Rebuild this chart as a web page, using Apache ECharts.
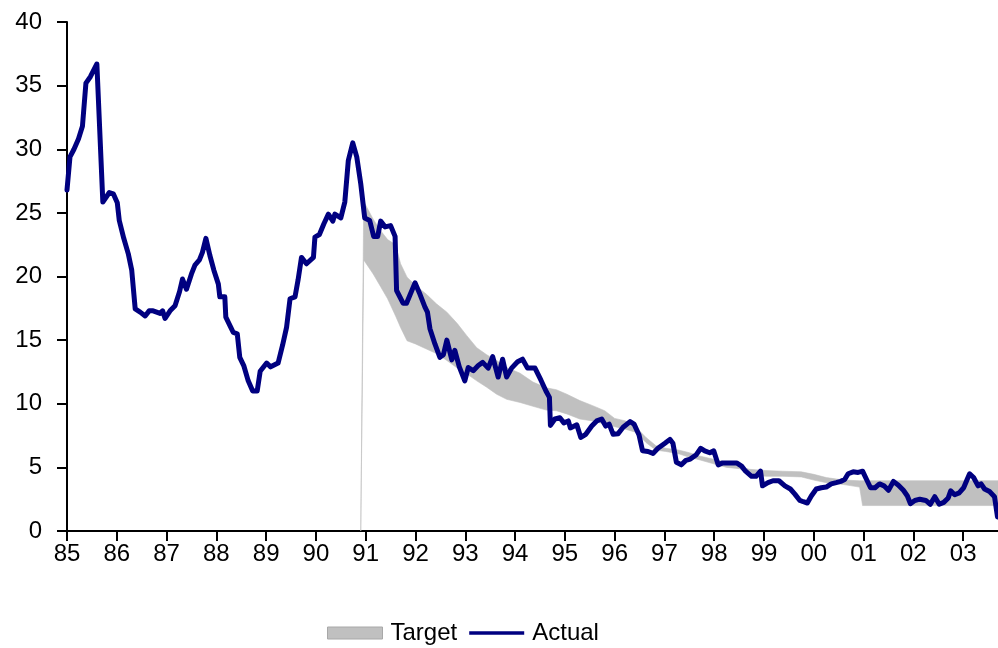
<!DOCTYPE html>
<html>
<head>
<meta charset="utf-8">
<script src="https://cdn.jsdelivr.net/npm/echarts@6/dist/echarts.min.js"></script>
<style>
html,body{margin:0;padding:0;background:#fff;}
#chart{width:998px;height:648px;}
</style>
</head>
<body>
<div id="chart"></div>
<script>
// Actual series: decimal year, value
var actualX = [1985.00,1985.06,1985.14,1985.23,1985.31,1985.38,1985.47,1985.60,1985.72,1985.85,1985.93,1986.01,1986.05,1986.14,1986.23,1986.30,1986.37,1986.47,1986.57,1986.65,1986.73,1986.87,1986.92,1986.97,1987.07,1987.17,1987.26,1987.32,1987.40,1987.50,1987.57,1987.66,1987.72,1987.79,1987.87,1987.95,1988.04,1988.07,1988.17,1988.19,1988.29,1988.34,1988.42,1988.47,1988.55,1988.64,1988.73,1988.82,1988.88,1989.01,1989.09,1989.24,1989.33,1989.41,1989.48,1989.58,1989.64,1989.71,1989.81,1989.95,1989.98,1990.07,1990.16,1990.25,1990.34,1990.38,1990.50,1990.58,1990.65,1990.74,1990.82,1990.90,1990.98,1991.08,1991.16,1991.24,1991.30,1991.39,1991.50,1991.59,1991.62,1991.75,1991.82,1991.99,1992.09,1992.19,1992.24,1992.29,1992.39,1992.49,1992.56,1992.63,1992.73,1992.79,1992.88,1992.99,1993.06,1993.16,1993.26,1993.35,1993.46,1993.55,1993.66,1993.75,1993.83,1993.93,1994.05,1994.15,1994.25,1994.40,1994.52,1994.62,1994.69,1994.71,1994.80,1994.90,1994.98,1995.07,1995.11,1995.24,1995.32,1995.42,1995.54,1995.64,1995.74,1995.82,1995.89,1995.97,1996.07,1996.17,1996.31,1996.39,1996.49,1996.56,1996.67,1996.77,1996.87,1997.01,1997.11,1997.17,1997.24,1997.34,1997.43,1997.52,1997.64,1997.73,1997.81,1997.91,1997.99,1998.08,1998.17,1998.31,1998.45,1998.55,1998.63,1998.75,1998.84,1998.93,1998.97,1999.08,1999.18,1999.30,1999.42,1999.53,1999.62,1999.72,1999.79,1999.87,1999.95,2000.05,2000.15,2000.25,2000.35,2000.45,2000.54,2000.62,2000.69,2000.79,2000.89,2000.98,2001.06,2001.14,2001.23,2001.32,2001.41,2001.50,2001.60,2001.70,2001.80,2001.88,2001.94,2002.03,2002.13,2002.25,2002.34,2002.43,2002.52,2002.61,2002.70,2002.75,2002.83,2002.92,2003.01,2003.08,2003.13,2003.21,2003.30,2003.36,2003.43,2003.53,2003.63,2003.67,2003.69];
var actualY = [26.8,29.4,30.0,30.8,31.8,35.2,35.7,36.7,25.85,26.6,26.5,25.8,24.4,23.0,21.8,20.5,17.45,17.2,16.9,17.3,17.3,17.1,17.3,16.7,17.3,17.7,18.8,19.8,19.0,20.2,20.9,21.3,21.9,23.0,21.65,20.5,19.4,18.4,18.4,16.8,16.0,15.6,15.5,13.65,13.0,11.8,11.0,11.0,12.55,13.2,12.9,13.2,14.6,16.0,18.25,18.4,19.7,21.5,21.0,21.5,23.1,23.3,24.15,24.9,24.35,24.9,24.6,25.85,29.1,30.5,29.4,27.3,24.6,24.4,23.15,23.15,24.35,23.9,24.0,23.15,18.9,17.9,17.9,19.5,18.6,17.6,17.2,15.9,14.7,13.65,13.85,15.0,13.45,14.2,12.9,11.8,12.85,12.6,13.0,13.25,12.8,13.7,12.1,13.5,12.1,12.8,13.3,13.5,12.8,12.8,11.85,11.0,10.5,8.3,8.8,8.9,8.5,8.65,8.1,8.35,7.35,7.6,8.25,8.65,8.8,8.25,8.4,7.6,7.65,8.15,8.6,8.4,7.55,6.3,6.25,6.1,6.5,6.9,7.2,6.9,5.4,5.2,5.55,5.65,6.0,6.5,6.3,6.15,6.3,5.2,5.35,5.35,5.35,5.1,4.7,4.3,4.3,4.7,3.55,3.8,3.95,3.95,3.55,3.3,2.9,2.4,2.3,2.2,2.75,3.3,3.4,3.45,3.7,3.8,3.9,4.05,4.5,4.65,4.6,4.7,4.05,3.4,3.4,3.7,3.55,3.2,3.9,3.6,3.2,2.75,2.15,2.4,2.5,2.4,2.1,2.7,2.1,2.25,2.6,3.15,2.85,3.0,3.4,4.05,4.5,4.2,3.55,3.7,3.3,3.1,2.7,2.6,1.1];

// Target band: decimal year, lower bound, upper bound
var targetX    = [1990.90,1990.96,1991.15,1991.30,1991.44,1991.60,1991.70,1991.83,1992.00,1992.22,1992.42,1992.63,1992.84,1993.03,1993.23,1993.43,1993.63,1993.83,1994.10,1994.36,1994.63,1994.83,1995.04,1995.30,1995.56,1995.80,1996.00,1996.22,1996.43,1996.63,1996.83,1997.03,1997.30,1997.50,1997.70,1997.97,1998.25,1998.51,1998.70,1999.03,1999.37,1999.75,2000.00,2000.25,2000.60,2000.92,2000.98,2003.70];
var targetLow  = [0,21.3,20.2,19.2,18.25,16.9,16.0,14.95,14.7,14.3,13.95,13.4,12.8,12.35,11.8,11.3,10.75,10.35,10.1,9.8,9.5,9.45,9.2,8.8,8.65,8.4,8.2,8.0,7.75,6.95,6.35,6.25,6.05,5.8,5.6,5.3,5.0,4.9,4.45,4.3,4.3,4.25,4.0,3.8,3.65,3.45,2.0,2.0];
var targetHigh = [0,25.9,24.5,23.6,22.9,22.5,21.0,19.95,19.3,18.6,17.85,17.2,16.3,15.35,14.4,13.85,13.4,12.85,12.4,11.7,11.25,11.1,10.75,10.25,9.85,9.45,8.85,8.65,8.15,7.35,6.7,6.5,6.35,6.15,5.9,5.65,5.4,5.1,4.85,4.75,4.7,4.65,4.45,4.2,4.0,3.95,3.95,3.95];

var yTicks = {min: 0, max: 40, step: 5};
var xRange = {min: 1985, max: 2003.7};

var font = "'Liberation Sans', Arial, sans-serif";

var actualData = actualX.map(function (x, i) { return [x, actualY[i]]; });
var bandData = targetX.map(function (x, i) { return [x, targetLow[i], targetHigh[i]]; });

function renderBand(params, api) {
  if (params.dataIndex !== 0) return null;
  var pts = [];
  var i;
  for (i = 0; i < targetX.length; i++) pts.push(api.coord([targetX[i], targetHigh[i]]));
  for (i = targetX.length - 1; i >= 0; i--) pts.push(api.coord([targetX[i], targetLow[i]]));
  var cs = params.coordSys;
  return {
    type: 'polygon',
    shape: {points: pts},
    style: {fill: '#c0c0c0', stroke: '#c0c0c0', lineWidth: 0.6},
    clipPath: {type: 'rect', shape: {x: cs.x, y: cs.y - 2, width: cs.width, height: cs.height + 2}}
  };
}

var chart = echarts.init(document.getElementById('chart'), null, {renderer: 'canvas'});
chart.setOption({
  animation: false,
  backgroundColor: '#ffffff',
  grid: {left: 67, right: 0, top: 22, bottom: 117, containLabel: false},
  legend: {
    left: 327, top: 621, padding: 0,
    itemWidth: 55, itemHeight: 12, itemGap: 12,
    textStyle: {fontSize: 24, color: '#000', fontFamily: font, padding: [0, 0, 0, 3]},
    data: [
      {name: 'Target', icon: 'rect', itemStyle: {color: '#c0c0c0', borderColor: '#a8a8a8', borderWidth: 1}},
      {name: 'Actual', icon: 'path://M0,0L0,0M0,4L60,4L60,8L0,8ZM0,12L0,12', itemStyle: {color: '#000080', borderWidth: 0}}
    ]
  },
  xAxis: {
    type: 'value', min: xRange.min, max: xRange.max, interval: 1,
    axisLine: {show: true, onZero: false, lineStyle: {color: '#000', width: 2}},
    axisTick: {show: true, inside: false, length: 10, lineStyle: {color: '#000', width: 2}},
    axisLabel: {
      show: true, margin: 11, fontSize: 24, color: '#000', fontFamily: font,
      showMaxLabel: false,
      formatter: function (v) {
        if (Math.abs(v - Math.round(v)) > 1e-6) return '';
        return String(Math.round(v)).slice(2);
      }
    },
    splitLine: {show: false}
  },
  yAxis: {
    type: 'value', min: yTicks.min, max: yTicks.max, interval: yTicks.step,
    axisLine: {show: true, lineStyle: {color: '#000', width: 2}},
    axisTick: {show: true, inside: false, length: 10, lineStyle: {color: '#000', width: 2}},
    axisLabel: {show: true, margin: 25, fontSize: 24, color: '#000', fontFamily: font},
    splitLine: {show: false}
  },
  series: [
    {
      name: 'Target', type: 'custom', data: bandData,
      color: '#c0c0c0',
      encode: {x: 0, y: [1, 2]},
      renderItem: renderBand,
      silent: true, z: 1
    },
    {
      name: 'Actual', type: 'line', data: actualData,
      symbol: 'none', color: '#000080',
      lineStyle: {color: '#000080', width: 5, join: 'round', cap: 'round'},
      z: 3
    }
  ]
});
</script>
</body>
</html>
